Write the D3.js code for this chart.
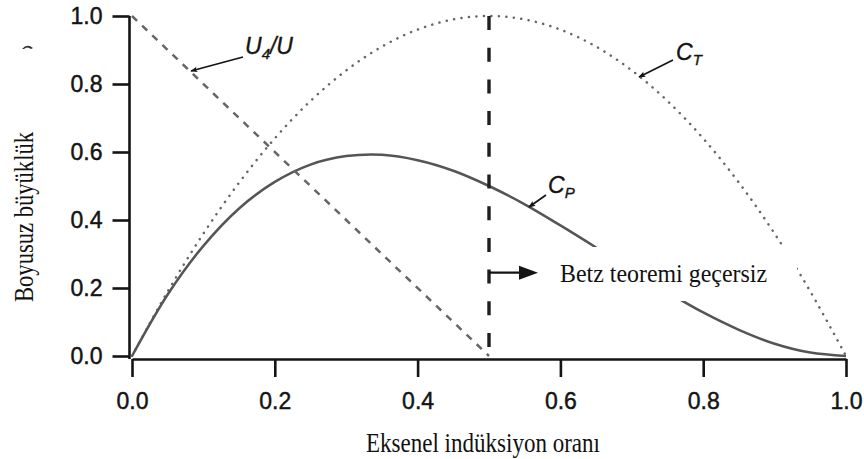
<!DOCTYPE html>
<html>
<head>
<meta charset="utf-8">
<script src="https://cdn.jsdelivr.net/npm/d3@7"></script>
<style>
  body { margin: 0; background: #fff; }
  svg { display: block; }
</style>
</head>
<body>
<svg id="chart" width="864" height="459"></svg>
<script>
// Axial induction factor samples and the coefficients read at each of them
const induction = [0, 0.05, 0.10, 0.15, 0.20, 0.25, 0.30, 0.35, 0.40, 0.45, 0.50,
                   0.55, 0.60, 0.65, 0.70, 0.75, 0.80, 0.85, 0.90, 0.95, 1.00];
const powerCoef = [0, 0.181, 0.324, 0.434, 0.512, 0.563, 0.588, 0.592, 0.576, 0.545, 0.500,
                   0.446, 0.384, 0.319, 0.252, 0.188, 0.128, 0.077, 0.036, 0.010, 0];
const thrustCoef = [0, 0.19, 0.36, 0.51, 0.64, 0.75, 0.84, 0.91, 0.96, 0.99, 1.00,
                    0.99, 0.96, 0.91, 0.84, 0.75, 0.64, 0.51, 0.36, 0.19, 0];
// Far-wake velocity ratio U4/U
const wakeInduction = [0, 0.5];
const wakeRatio = [1, 0];
// Limit of Betz theory
const betzLimit = 0.5;
const betzArrowLevel = 0.245;

const xTickValues = [0, 0.2, 0.4, 0.6, 0.8, 1.0];
const yTickValues = [0, 0.2, 0.4, 0.6, 0.8, 1.0];
const xTitle = "Eksenel indüksiyon oranı";
const yTitle = "Boyusuz büyüklük";
const betzNote = "Betz teoremi geçersiz";

const svg = d3.select("#chart");
const x = d3.scaleLinear().domain([0, 1]).range([132, 846]);
const y = d3.scaleLinear().domain([0, 1]).range([356, 16]);

const ink = "#141414";
const curveGrey = "#555";

// Arrowhead markers
const defs = svg.append("defs");
defs.append("marker")
  .attr("id", "headSmall").attr("viewBox", "0 0 10 10")
  .attr("refX", 9).attr("refY", 5)
  .attr("markerWidth", 10).attr("markerHeight", 7)
  .attr("markerUnits", "userSpaceOnUse")
  .attr("orient", "auto")
  .append("path").attr("d", "M0,1 L10,5 L0,9 L2,5 Z").attr("fill", ink);

// Axes
const tickFont = "'Liberation Sans', Arial, Helvetica, sans-serif";
const xAxis = svg.append("g")
  .attr("transform", "translate(0,359)")
  .call(d3.axisBottom(x).tickValues(xTickValues).tickFormat(d3.format(".1f"))
        .tickSize(18).tickSizeOuter(0).tickPadding(16));
const yAxis = svg.append("g")
  .attr("transform", "translate(129.5,0)")
  .call(d3.axisLeft(y).tickValues(yTickValues).tickFormat(d3.format(".1f"))
        .tickSize(17).tickSizeOuter(0).tickPadding(10));
[xAxis, yAxis].forEach(g => {
  g.select(".domain").attr("stroke", ink).attr("stroke-width", 2.6);
  g.selectAll(".tick line").attr("stroke", ink).attr("stroke-width", 2.6);
  g.selectAll(".tick text")
    .attr("fill", ink)
    .attr("stroke", ink).attr("stroke-width", 0.45)
    .style("font-family", tickFont)
    .style("font-size", "23px");
});
yAxis.select(".domain").attr("d", `M0,${y(1)}V${359}`);

// Curves
const pts = (xs, ys) => xs.map((v, i) => [x(v), y(ys[i])]);
const smooth = d3.line().curve(d3.curveCatmullRom.alpha(0.5));
const straight = d3.line();

svg.append("path")
  .attr("d", smooth(pts(induction, thrustCoef)))
  .attr("fill", "none").attr("stroke", "#666")
  .attr("stroke-width", 2.5).attr("stroke-linecap", "round")
  .attr("stroke-dasharray", "0.1,7.4");

svg.append("path")
  .attr("d", smooth(pts(induction, powerCoef)))
  .attr("fill", "none").attr("stroke", curveGrey)
  .attr("stroke-width", 2.5);

svg.append("path")
  .attr("d", straight(pts(wakeInduction, wakeRatio)))
  .attr("fill", "none").attr("stroke", "#666")
  .attr("stroke-width", 2.5)
  .attr("stroke-dasharray", "7,7");

// Betz limit line
svg.append("line")
  .attr("x1", x(betzLimit)).attr("x2", x(betzLimit))
  .attr("y1", y(1)).attr("y2", y(0))
  .attr("stroke", "#1e1e1e").attr("stroke-width", 3.4)
  .attr("stroke-dasharray", "14,17.7");

// Note box over the curves
svg.append("rect")
  .attr("x", 550).attr("y", 247).attr("width", 247).attr("height", 54)
  .attr("fill", "#fff");

// Betz arrow
const ay = y(betzArrowLevel);
svg.append("line")
  .attr("x1", x(betzLimit)).attr("x2", 522)
  .attr("y1", ay).attr("y2", ay)
  .attr("stroke", ink).attr("stroke-width", 2.2);
svg.append("path")
  .attr("d", `M519,${ay - 7} L538,${ay} L519,${ay + 7} Z`)
  .attr("fill", ink);

const serif = "'Liberation Serif', 'Times New Roman', serif";
svg.append("text")
  .attr("x", 560).attr("y", 282)
  .attr("textLength", 207).attr("lengthAdjust", "spacingAndGlyphs")
  .style("font-family", serif).style("font-size", "26px")
  .attr("fill", "#111")
  .text(betzNote);

// Curve labels
const labelFont = "'Liberation Sans', Arial, Helvetica, sans-serif";
function curveLabel(px, py, main, sub, tail) {
  const t = svg.append("text")
    .attr("x", px).attr("y", py)
    .style("font-family", labelFont).style("font-style", "italic")
    .style("font-size", "23px").attr("fill", ink)
    .attr("stroke", ink).attr("stroke-width", 0.35);
  t.append("tspan").text(main);
  t.append("tspan").attr("dy", 5).style("font-size", "15px").text(sub);
  if (tail) t.append("tspan").attr("dy", -5).text(tail);
}
function pointer(x1, y1, x2, y2) {
  svg.append("line")
    .attr("x1", x1).attr("y1", y1).attr("x2", x2).attr("y2", y2)
    .attr("stroke", ink).attr("stroke-width", 1.7)
    .attr("marker-end", "url(#headSmall)");
}
curveLabel(245, 54, "U", "4", "/U");
pointer(243, 57, 191, 71);
curveLabel(676, 60, "C", "T");
pointer(673, 60, 639, 77);
curveLabel(548, 193, "C", "P");
pointer(546, 195, 529, 207);

// Small stray mark at upper left
svg.append("path")
  .attr("d", "M22,49 Q27,43 33,48 L31,49 Q27,46 24,49 Z")
  .attr("fill", "#333");

// Axis titles
function fittedText(cx, cy, len, size, str, rotate) {
  const g = svg.append("g").attr("transform", `translate(${cx},${cy})` + (rotate ? " rotate(-90)" : ""));
  g.append("text")
    .attr("x", -len / 2).attr("y", 0)
    .attr("textLength", len).attr("lengthAdjust", "spacingAndGlyphs")
    .style("font-family", serif).style("font-size", size + "px")
    .attr("fill", "#111")
    .text(str);
}
fittedText(483, 452, 234, 28, xTitle, false);
fittedText(33, 217, 170, 28, yTitle, true);
</script>
</body>
</html>
